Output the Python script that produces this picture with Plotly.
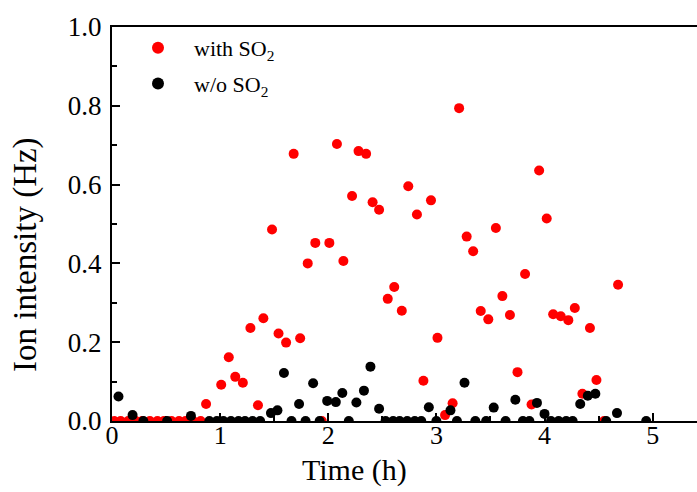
import plotly.graph_objects as go

# with SO2 (red)
with_so2_time = [0.02, 0.08, 0.15, 0.22, 0.28, 0.35, 0.42, 0.48, 0.55, 0.62, 0.68, 0.75, 0.82,
                 0.87, 1.01, 1.08, 1.14, 1.21, 1.28, 1.35, 1.40, 1.48, 1.54, 1.61, 1.68, 1.74,
                 1.81, 1.88, 1.94, 2.01, 2.08, 2.14, 2.22, 2.28, 2.35, 2.41, 2.47, 2.55, 2.61,
                 2.68, 2.74, 2.82, 2.88, 2.95, 3.01, 3.08, 3.15, 3.21, 3.28, 3.34, 3.41, 3.48,
                 3.55, 3.61, 3.68, 3.75, 3.82, 3.88, 3.95, 4.02, 4.08, 4.15, 4.22, 4.28, 4.35,
                 4.42, 4.48, 4.55, 4.68]
with_so2_val = [0.0, 0.0, 0.0, 0.0, 0.0, 0.0, 0.0, 0.0, 0.0, 0.0, 0.0, 0.0, 0.0,
                0.043, 0.092, 0.162, 0.112, 0.097, 0.236, 0.040, 0.261, 0.486, 0.222, 0.199, 0.678, 0.210,
                0.400, 0.452, 0.0, 0.452, 0.703, 0.406, 0.571, 0.685, 0.678, 0.555, 0.536, 0.310, 0.340,
                0.280, 0.596, 0.524, 0.102, 0.560, 0.211, 0.015, 0.045, 0.794, 0.468, 0.431, 0.279, 0.258,
                0.490, 0.317, 0.269, 0.124, 0.373, 0.042, 0.636, 0.514, 0.271, 0.266, 0.256, 0.287, 0.069,
                0.236, 0.104, 0.0, 0.346]

# w/o SO2 (black)
without_so2_time = [0.06, 0.19, 0.29, 0.51, 0.73, 0.90, 0.97, 1.03, 1.10, 1.17, 1.23, 1.30, 1.37,
                    1.47, 1.53, 1.59, 1.66, 1.73, 1.79, 1.86, 1.92, 1.99, 2.07, 2.13, 2.19, 2.26,
                    2.33, 2.39, 2.47, 2.53, 2.60, 2.66, 2.73, 2.80, 2.86, 2.93, 3.00, 3.13, 3.19,
                    3.26, 3.36, 3.46, 3.53, 3.64, 3.73, 3.80, 3.86, 3.93, 4.00, 4.06, 4.13, 4.20,
                    4.26, 4.33, 4.40, 4.47, 4.57, 4.67, 4.94]
without_so2_val = [0.062, 0.015, 0.0, 0.0, 0.013, 0.0, 0.0, 0.0, 0.0, 0.0, 0.0, 0.0, 0.0,
                   0.020, 0.027, 0.122, 0.0, 0.043, 0.0, 0.096, 0.0, 0.051, 0.048, 0.071, 0.0, 0.047,
                   0.077, 0.138, 0.031, 0.0, 0.0, 0.0, 0.0, 0.0, 0.0, 0.035, 0.0, 0.027, 0.0,
                   0.097, 0.0, 0.0, 0.034, 0.0, 0.054, 0.0, 0.0, 0.046, 0.018, 0.0, 0.0, 0.0,
                   0.0, 0.043, 0.064, 0.069, 0.0, 0.020, 0.0]

x_ticks = [0, 1, 2, 3, 4, 5]
y_ticks = [0.0, 0.2, 0.4, 0.6, 0.8, 1.0]
y_tick_labels = ["0.0", "0.2", "0.4", "0.6", "0.8", "1.0"]
x_title = "Time (h)"
y_title = "Ion intensity (Hz)"

FONT = "Liberation Serif, Times New Roman, serif"
W, H = 697, 492
L, R, T, B = 112, 0, 27, 71
PW, PH = W - L - R, H - T - B


def px_x(sx):
    return (sx - L) / PW


def px_y(sy):
    return 1 - (sy - T) / PH


fig = go.Figure()
fig.add_trace(go.Scatter(x=with_so2_time, y=with_so2_val, mode="markers",
                         name="with SO<sub>2</sub>", legendgroup="a",
                         marker=dict(color="#ff0000", size=10)))
fig.add_trace(go.Scatter(x=without_so2_time, y=without_so2_val, mode="markers",
                         name="w/o SO<sub>2</sub>", legendgroup="b",
                         marker=dict(color="#000000", size=10)))

fig.update_layout(
    width=W, height=H,
    margin=dict(l=L, r=R, t=T, b=B),
    plot_bgcolor="white", paper_bgcolor="white",
    font=dict(family=FONT, color="black"),
    showlegend=True,
    legend=dict(x=px_x(122), y=1.0, xanchor="left", yanchor="top",
                font=dict(family=FONT, size=22), bgcolor="rgba(0,0,0,0)",
                itemsizing="constant", itemwidth=62, tracegroupgap=4, traceorder="grouped"),
    xaxis=dict(range=[0, 5.41], tickvals=x_ticks, ticktext=[str(v) for v in x_ticks],
               automargin=False,
               showgrid=False, zeroline=False, showline=True, linecolor="black", linewidth=2,
               mirror=True, ticks="inside", ticklen=8, tickwidth=2, tickcolor="black",
               minor=dict(ticks="inside", ticklen=5, tickwidth=2, dtick=0.5, tickcolor="black"),
               tickfont=dict(family=FONT, size=26), ticklabelstandoff=-10),
    yaxis=dict(range=[0, 1.0], tickvals=y_ticks, ticktext=y_tick_labels,
               automargin=False,
               showgrid=False, zeroline=False, showline=True, linecolor="black", linewidth=2,
               ticks="inside", ticklen=8, tickwidth=2, tickcolor="black",
               minor=dict(ticks="inside", ticklen=5, tickwidth=2, dtick=0.1, tickcolor="black"),
               tickfont=dict(family=FONT, size=27), ticklabelstandoff=3),
    annotations=[
        dict(text=x_title, xref="paper", yref="paper",
             x=px_x(354), y=px_y(470), xanchor="center", yanchor="middle",
             showarrow=False, font=dict(family=FONT, size=30)),
        dict(text=y_title, xref="paper", yref="paper", textangle=-90,
             x=px_x(26), y=px_y(255), xanchor="center", yanchor="middle",
             showarrow=False, font=dict(family=FONT, size=33)),
    ],
)

fig.write_html(
    "out.html",
    config={"displayModeBar": False},
    post_script=(
        "document.documentElement.style.margin='0';"
        "document.body.style.margin='0';"
        "document.documentElement.style.overflow='hidden';"
        "document.body.style.overflow='hidden';"
    ),
)
